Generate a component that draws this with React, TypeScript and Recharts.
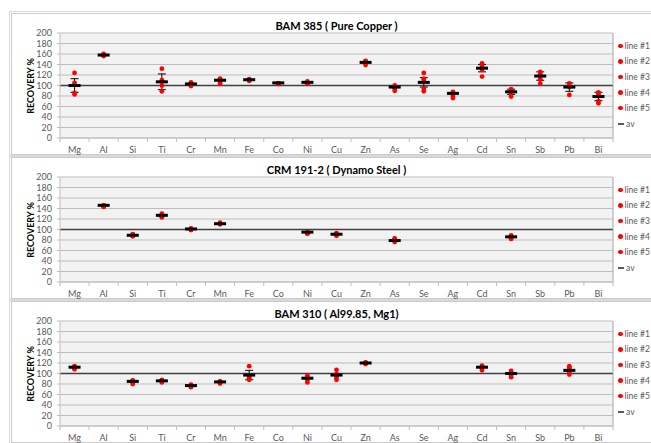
import React from "react";
import { ComposedChart, Scatter, XAxis, YAxis, CartesianGrid, ReferenceLine, ErrorBar } from "recharts";

const elements = ["Mg", "Al", "Si", "Ti", "Cr", "Mn", "Fe", "Co", "Ni", "Cu", "Zn", "As", "Se", "Ag", "Cd", "Sn", "Sb", "Pb", "Bi"];
const yTicks = [0, 20, 40, 60, 80, 100, 120, 140, 160, 180, 200];
const legendLabels = ["line #1", "line #2", "line #3", "line #4", "line #5"];

// one row per element, five runs each (null = not measured)
const bam385Runs: (number[] | null)[] = [
  [124, 105, 101, 86, 83], // Mg
  [160, 159, 157, 156, 158], // Al
  null, // Si
  [132, 108, 100, 89, 110], // Ti
  [106, 104, 101, 99, 103], // Cr
  [113, 110, 105, 103, 112], // Mn
  [112, 110, 109, 110, 111], // Fe
  [104, 103, 104, 103, 104], // Co
  [108, 104, 103, 105, 104], // Ni
  null, // Cu
  [147, 146, 139, 143, 145], // Zn
  [100, 98, 90, 95, 97], // As
  [124, 111, 94, 89, 113], // Se
  [88, 85, 76, 80, 84], // Ag
  [142, 138, 130, 117, 140], // Cd
  [93, 89, 79, 84, 90], // Sn
  [126, 112, 104, 122, 120], // Sb
  [104, 97, 82, 100, 99], // Pb
  [87, 66, 84, 70, 85], // Bi
];
const bam385Av = [100, 158, null, 107, 103, 110, 111, 105, 106, null, 144, 97, 106, 85, 133, 88, 118, 97, 79];
const bam385Err = [13, 0, 0, 15, 0, 0, 0, 0, 0, 0, 0, 0, 9, 0, 7, 5, 8, 8, 8];

const crm1912Runs: (number[] | null)[] = [
  null, // Mg
  [146, 144, 143, 145, 146], // Al
  [91, 88, 87, 90, 89], // Si
  [130, 127, 123, 125, 128], // Ti
  [102, 100, 99, 101, 100], // Cr
  [113, 111, 110, 112, 111], // Mn
  null, // Fe
  null, // Co
  [95, 93, 92, 94, 93], // Ni
  [93, 91, 88, 90, 92], // Cu
  null, // Zn
  [83, 80, 76, 78, 82], // As
  null, // Se
  null, // Ag
  null, // Cd
  [89, 86, 82, 84, 87], // Sn
  null, // Sb
  null, // Pb
  null, // Bi
];
const crm1912Av = [null, 146, 89, 127, 101, 111, null, null, 95, 91, null, 79, null, null, null, 86, null, null, null];
const crm1912Err = [0, 0, 0, 0, 0, 0, 0, 0, 0, 0, 0, 0, 0, 0, 0, 0, 0, 0, 0];

const bam310Runs: (number[] | null)[] = [
  [114, 112, 108, 110, 113], // Mg
  null, // Al
  [87, 85, 80, 83, 86], // Si
  [88, 86, 83, 85, 87], // Ti
  [79, 77, 74, 76, 78], // Cr
  [85, 84, 81, 83, 84], // Mn
  [114, 96, 91, 88, 94], // Fe
  null, // Co
  [96, 93, 88, 83, 90], // Ni
  [107, 96, 92, 88, 99], // Cu
  [121, 119, 118, 120, 120], // Zn
  null, // As
  null, // Se
  null, // Ag
  [115, 112, 106, 110, 113], // Cd
  [105, 101, 93, 97, 99], // Sn
  null, // Sb
  [114, 108, 98, 103, 111], // Pb
  null, // Bi
];
const bam310Av = [112, null, 85, 86, 77, 84, 97, null, 91, 97, 120, null, null, null, 112, 100, null, 106, null];
const bam310Err = [0, 0, 0, 0, 0, 0, 9, 0, 0, 0, 0, 0, 0, 0, 0, 0, 0, 0, 0];

const W = 651;
const PLOT_L = 60;
const PLOT_R = 613;
const STEP = (PLOT_R - PLOT_L) / elements.length;
const FONT = "Lato, 'Liberation Sans', sans-serif";

function ElementTick(props: any) {
  const { x, y, payload } = props;
  const i = payload.value;
  return (
    <g>
      {i === 0 && <line x1={x - STEP / 2} x2={x - STEP / 2} y1={y} y2={y + 4} stroke="#bfbfbf" />}
      <line x1={x + STEP / 2} x2={x + STEP / 2} y1={y} y2={y + 4} stroke="#bfbfbf" />
      <text x={x} y={y + 15} textAnchor="middle" fontSize={9} fill="#595959" fontFamily={FONT}>
        {elements[i]}
      </text>
    </g>
  );
}

const RedDot = (props: any) => <circle cx={props.cx} cy={props.cy} r={2.4} fill="#ff0000" />;
const AvMark = (props: any) => <rect x={props.cx - 6} y={props.cy - 1.5} width={12} height={3} fill="#000" />;

function Panel({ top, title, runs, av, err }: any) {
  const lineData = legendLabels.map((_, k) =>
    runs.flatMap((r: number[] | null, i: number) => (r ? [{ x: i, y: r[k] }] : []))
  );
  const avData = av.flatMap((v: number | null, i: number) => (v == null ? [] : [{ x: i, y: v, err: err[i] }]));
  return (
    <div style={{ position: "absolute", left: 0, top, width: W, height: 160 }}>
      <div
        style={{
          position: "absolute",
          left: 11,
          top: 13,
          width: 700,
          height: 140,
          border: "1px solid #cccccc",
          outline: "1px solid #d9d9d9",
          outlineOffset: 1,
        }}
      />
      <div
        style={{
          position: "absolute",
          left: PLOT_L,
          width: PLOT_R - PLOT_L,
          top: 20,
          lineHeight: "12px",
          textAlign: "center",
          fontFamily: FONT,
          fontWeight: 700,
          fontSize: 11,
          color: "#000",
        }}
      >
        {title}
      </div>
      <div
        style={{
          position: "absolute",
          left: 30,
          top: 86,
          transform: "translate(-50%, -50%) rotate(-90deg)",
          whiteSpace: "nowrap",
          fontFamily: FONT,
          fontWeight: 700,
          fontSize: 9,
          color: "#000",
        }}
      >
        RECOVERY %
      </div>
      <ComposedChart width={W} height={160} margin={{ top: 33, right: W - PLOT_R, bottom: 6, left: 20 }}>
        <CartesianGrid vertical={false} fill="#f2f2f2" stroke="#bdbdbd" />
        <XAxis
          type="number"
          dataKey="x"
          domain={[-0.5, elements.length - 0.5]}
          ticks={elements.map((_, i) => i)}
          interval={0}
          tick={<ElementTick />}
          tickLine={false}
          tickSize={0}
          tickMargin={0}
          height={16}
          axisLine={{ stroke: "#bfbfbf" }}
        />
        <YAxis
          type="number"
          dataKey="y"
          domain={[0, 200]}
          ticks={yTicks}
          interval={0}
          width={40}
          tickSize={3}
          tickMargin={5}
          tick={{ fontSize: 9, fill: "#595959", fontFamily: FONT }}
          tickLine={{ stroke: "#bfbfbf" }}
          axisLine={{ stroke: "#bfbfbf" }}
        />
        <ReferenceLine y={100} stroke="#404040" strokeWidth={1.5} />
        <ReferenceLine x={elements.length - 0.5} stroke="#a6a6a6" />
        {lineData.map((d, k) => (
          <Scatter key={k} name={legendLabels[k]} data={d} fill="#ff0000" shape={RedDot} isAnimationActive={false} />
        ))}
        <Scatter name="av" data={avData} fill="#000" shape={AvMark} isAnimationActive={false}>
          <ErrorBar dataKey="err" direction="y" width={4} stroke="#000" strokeWidth={1} />
        </Scatter>
      </ComposedChart>
      <div style={{ position: "absolute", left: 618, top: 38, fontFamily: FONT, fontSize: 8.5, color: "#595959" }}>
        {legendLabels.map((l) => (
          <div key={l} style={{ height: 15.6, display: "flex", alignItems: "center", whiteSpace: "nowrap" }}>
            <span style={{ width: 4.5, height: 4.5, borderRadius: 3, background: "#ff0000", marginRight: 2 }} />
            {l}
          </div>
        ))}
        <div style={{ height: 15.6, display: "flex", alignItems: "center", whiteSpace: "nowrap" }}>
          <span style={{ width: 6, height: 1.5, background: "#595959", marginRight: 2 }} />
          av
        </div>
      </div>
    </div>
  );
}

export default function App() {
  return (
    <div style={{ position: "absolute", left: 0, top: 0, width: W, height: 443, overflow: "hidden", background: "#fff" }}>
      <Panel top={0} title="BAM 385 ( Pure Copper )" runs={bam385Runs} av={bam385Av} err={bam385Err} />
      <Panel top={144} title="CRM 191-2 ( Dynamo Steel )" runs={crm1912Runs} av={crm1912Av} err={crm1912Err} />
      <Panel top={288} title="BAM 310 ( Al99.85, Mg1)" runs={bam310Runs} av={bam310Av} err={bam310Err} />
    </div>
  );
}
